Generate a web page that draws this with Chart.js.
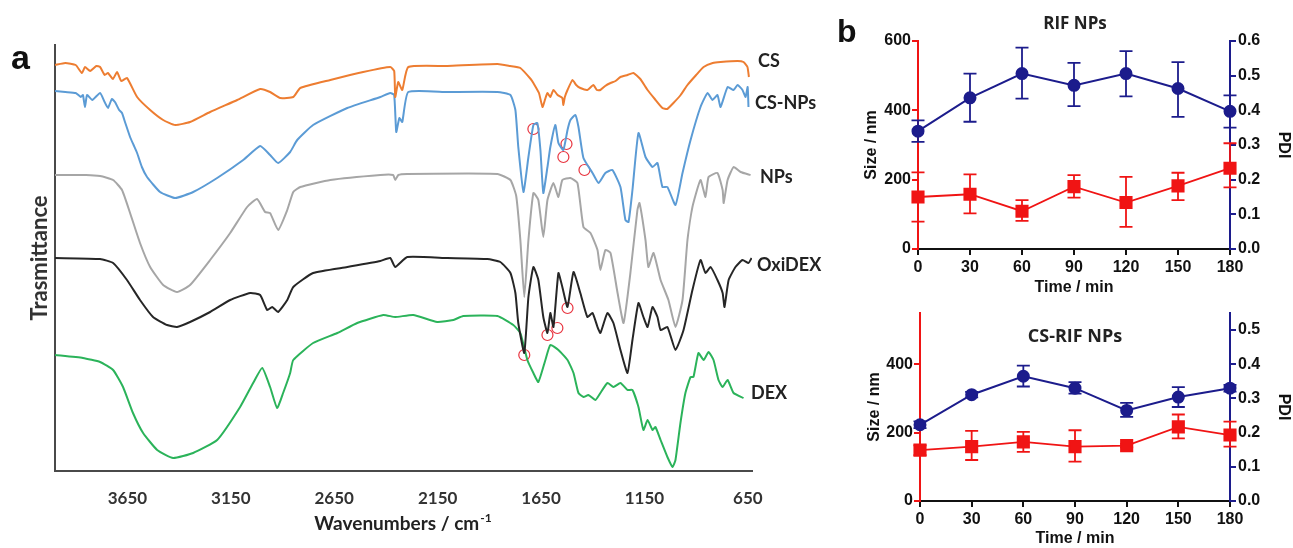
<!DOCTYPE html>
<html>
<head>
<meta charset="utf-8">
<script src="https://cdn.jsdelivr.net/npm/chart.js@4.4.0/dist/chart.umd.min.js"></script>
<style>
  html, body { margin: 0; padding: 0; background: #fff; }
  #wrap { position: relative; width: 1293px; height: 548px; overflow: hidden; background: #fff; }
  canvas { position: absolute; }
</style>
</head>
<body>
<div id="wrap">
  <canvas id="ftirChart" width="835" height="548" style="left:0px;top:0px"></canvas>
  <canvas id="rifChart" width="463" height="300" style="left:830px;top:0px"></canvas>
  <canvas id="csRifChart" width="463" height="248" style="left:830px;top:300px"></canvas>
</div>
<script>
// ---- panel a : FTIR spectra, [wavenumber cm-1, transmittance (a.u., stacked offsets)] ----
const csSpectrum = [[4000,406],[3950,408],[3900,406],[3870,398],[3855,404],[3830,400],[3800,405],[3782,404],[3760,396],[3744,398],[3720,392],[3700,399],[3680,390],[3652,393],[3603,374],[3540,361],[3477,351],[3419,346],[3347,349],[3250,359],[3119,371],[3008,382],[2960,379],[2911,373],[2848,374],[2814,383],[2669,391],[2510,399],[2379,404],[2360,400],[2355,374],[2345,385],[2340,389],[2321,381],[2292,404],[2103,405],[1861,407],[1800,405],[1750,403],[1700,392],[1687,388],[1660,378],[1643,364],[1630,372],[1619,378],[1605,374],[1590,381],[1570,376],[1547,373],[1542,366],[1535,374],[1522,381],[1498,391],[1480,386],[1460,383],[1426,381],[1397,386],[1380,381],[1363,381],[1340,385],[1314,388],[1290,390],[1266,394],[1232,396],[1203,398],[1170,392],[1135,381],[1100,372],[1063,363],[1040,362],[1010,368],[975,376],[942,386],[900,396],[864,404],[820,408],[782,409],[700,410],[671,409],[652,404],[645,394]];
const csNpsSpectrum = [[4000,380],[3950,379],[3900,378],[3875,374],[3865,376],[3855,364],[3845,376],[3820,371],[3782,378],[3760,369],[3744,363],[3725,372],[3710,369],[3690,361],[3676,358],[3660,348],[3637,334],[3620,326],[3603,318],[3580,304],[3555,294],[3492,279],[3419,273],[3332,279],[3216,293],[3090,311],[3008,325],[2960,316],[2921,308],[2863,319],[2829,331],[2752,346],[2587,363],[2427,374],[2379,378],[2360,376],[2350,339],[2335,353],[2321,349],[2292,379],[2103,379],[1861,379],[1798,376],[1774,361],[1760,324],[1735,279],[1711,314],[1687,346],[1668,348],[1653,321],[1639,278],[1619,304],[1605,324],[1581,346],[1566,328],[1542,321],[1522,341],[1508,351],[1484,356],[1469,344],[1445,313],[1401,298],[1372,288],[1339,298],[1305,301],[1266,284],[1242,251],[1227,249],[1208,281],[1179,338],[1145,314],[1111,304],[1087,308],[1063,284],[1039,284],[1000,266],[966,298],[927,331],[879,364],[845,378],[821,371],[797,376],[782,364],[748,384],[719,381],[700,386],[676,381],[661,374],[651,384],[647,364]];
const npsSpectrum = [[4000,296],[3850,296],[3782,295],[3719,291],[3676,281],[3637,258],[3589,228],[3540,204],[3477,186],[3410,179],[3347,186],[3250,211],[3153,238],[3071,264],[3023,272],[2984,259],[2960,258],[2921,241],[2877,261],[2848,279],[2814,284],[2669,291],[2427,296],[2365,296],[2355,291],[2340,296],[2297,297],[1861,297],[1798,291],[1770,275],[1750,231],[1731,174],[1711,231],[1687,278],[1663,271],[1639,234],[1619,271],[1590,288],[1566,274],[1547,291],[1508,293],[1474,288],[1445,244],[1411,238],[1377,221],[1363,201],[1339,221],[1314,218],[1280,178],[1251,148],[1218,198],[1184,261],[1174,268],[1145,231],[1131,204],[1106,218],[1072,191],[1034,171],[1000,144],[966,171],[942,231],[918,264],[879,291],[855,274],[840,294],[797,298],[772,281],[767,268],[748,291],[719,304],[685,299],[637,296]];
const oxidexSpectrum = [[4000,213],[3782,212],[3719,208],[3652,191],[3589,171],[3526,154],[3458,146],[3410,144],[3347,149],[3250,159],[3153,171],[3056,178],[3008,176],[2974,161],[2950,164],[2921,159],[2877,171],[2848,184],[2752,198],[2587,204],[2427,210],[2379,213],[2355,204],[2297,214],[2103,213],[1910,212],[1847,209],[1798,198],[1774,178],[1760,148],[1731,118],[1711,174],[1687,204],[1663,191],[1639,154],[1619,138],[1605,158],[1590,144],[1566,198],[1547,184],[1522,164],[1493,199],[1460,178],[1426,154],[1401,158],[1377,144],[1363,138],[1329,158],[1300,148],[1266,121],[1232,98],[1208,131],[1179,168],[1155,154],[1135,144],[1111,164],[1087,154],[1072,141],[1039,144],[1000,121],[961,141],[918,181],[879,211],[855,198],[830,204],[797,191],[772,178],[763,164],[743,191],[710,204],[676,211],[647,208],[632,213]];
const dexSpectrum = [[4000,116],[3865,113],[3782,109],[3719,101],[3671,84],[3623,58],[3574,38],[3506,21],[3429,13],[3332,18],[3216,31],[3105,64],[3042,88],[2998,103],[2960,84],[2926,63],[2897,78],[2863,98],[2848,111],[2752,128],[2635,138],[2539,148],[2413,156],[2355,154],[2268,156],[2152,149],[2074,151],[2026,155],[1861,155],[1784,146],[1750,138],[1716,111],[1687,98],[1663,89],[1629,111],[1605,126],[1566,121],[1522,111],[1493,98],[1469,78],[1445,74],[1421,76],[1387,71],[1363,78],[1329,88],[1300,84],[1266,88],[1232,81],[1208,81],[1179,64],[1155,41],[1135,51],[1111,41],[1097,44],[1072,31],[1039,14],[1014,4],[1000,11],[976,48],[952,78],[927,94],[913,94],[889,118],[864,111],[840,119],[816,111],[792,91],[772,84],[748,91],[719,78],[671,73]];
const markedBands = [[1687,342],[1542,314],[1527,327],[1440,301],[1731,116],[1619,136],[1571,143],[1522,163]];

const spectrumNames = ['CS', 'CS-NPs', 'NPs', 'OxiDEX', 'DEX'];
const spectrumColors = ['#ed7d31', '#5b9bd5', '#a6a6a6', '#262626', '#2bb35a'];
const spectrumLabelLevel = [410, 368, 294, 206, 78];
const wavenumberTicks = [3650, 3150, 2650, 2150, 1650, 1150, 650];

// ---- panel b : size / PDI vs time ----
const timeMin = [0, 30, 60, 90, 120, 150, 180];
const rifSize = [150, 158, 109, 180, 134, 182, 233];
const rifSizeLow = [79, 103, 81, 148, 64, 141, 178];
const rifSizeHigh = [221, 215, 141, 213, 208, 220, 305];
const rifPdi = [0.340, 0.436, 0.506, 0.472, 0.506, 0.463, 0.397];
const rifPdiLow = [0.309, 0.367, 0.434, 0.412, 0.440, 0.381, 0.350];
const rifPdiHigh = [0.371, 0.506, 0.581, 0.537, 0.571, 0.539, 0.443];
const csRifSize = [149, 159, 173, 159, 162, 217, 193];
const csRifSizeLow = [134, 120, 144, 115, 157, 183, 159];
const csRifSizeHigh = [163, 205, 202, 207, 167, 253, 232];
const csRifPdi = [0.223, 0.311, 0.365, 0.330, 0.265, 0.304, 0.330];
const csRifPdiLow = [0.213, 0.303, 0.335, 0.314, 0.246, 0.275, 0.320];
const csRifPdiHigh = [0.233, 0.319, 0.396, 0.348, 0.287, 0.333, 0.340];

const RED = '#f01414';
const NAVY = '#1c1c8c';
const BOLD_ARIAL = '"Liberation Sans", Arial, sans-serif';

const asXY = pts => pts.map(p => ({ x: p[0], y: p[1] }));

// text drawn straight on the canvas (panel letters, titles)
const panelText = {
  id: 'panelText',
  afterDraw(chart, args, opts) {
    const ctx = chart.ctx;
    (opts.items || []).forEach(t => {
      ctx.save();
      ctx.font = t.font;
      ctx.fillStyle = t.color || '#111';
      ctx.textBaseline = 'alphabetic';
      if (t.sup) {
        // main text + raised exponent, centred as a whole
        const w = ctx.measureText(t.text).width;
        ctx.font = t.supFont;
        const ws = ctx.measureText(t.sup).width;
        const start = t.x - (w + ws + 1) / 2;
        ctx.textAlign = 'left';
        ctx.fillText(t.sup, start + w + 1, t.y - 8);
        ctx.font = t.font;
        ctx.fillText(t.text, start, t.y);
      } else {
        ctx.textAlign = t.align || 'left';
        ctx.fillText(t.text, t.x, t.y);
      }
      ctx.restore();
    });
  }
};

const curveLabels = {
  id: 'curveLabels',
  afterDatasetsDraw(chart) {
    const { ctx, chartArea, scales } = chart;
    const dx = [6, 3, 8, 5, -1];
    ctx.save();
    ctx.font = 'bold 18px Lato';
    ctx.fillStyle = '#222';
    ctx.textBaseline = 'middle';
    spectrumNames.forEach((name, i) => {
      ctx.fillText(name, chartArea.right + dx[i], scales.y.getPixelForValue(spectrumLabelLevel[i]));
    });
    ctx.restore();
  }
};

const errorBars = {
  id: 'errorBars',
  beforeDatasetsDraw(chart) {
    const ctx = chart.ctx;
    chart.data.datasets.forEach(ds => {
      if (!ds.errLow) return;
      const ys = chart.scales[ds.yAxisID];
      const xs = chart.scales.x;
      ctx.save();
      ctx.strokeStyle = ds.borderColor;
      ctx.lineWidth = 1.8;
      ds.data.forEach((p, j) => {
        const x = xs.getPixelForValue(p.x);
        const y1 = ys.getPixelForValue(ds.errLow[j]);
        const y2 = ys.getPixelForValue(ds.errHigh[j]);
        ctx.beginPath();
        ctx.moveTo(x, y1); ctx.lineTo(x, y2);
        ctx.moveTo(x - 6.5, y1); ctx.lineTo(x + 6.5, y1);
        ctx.moveTo(x - 6.5, y2); ctx.lineTo(x + 6.5, y2);
        ctx.stroke();
      });
      ctx.restore();
    });
  }
};

const spectra = [csSpectrum, csNpsSpectrum, npsSpectrum, oxidexSpectrum, dexSpectrum];

new Chart(document.getElementById('ftirChart'), {
  type: 'line',
  data: {
    datasets: spectra.map((s, i) => ({
      label: spectrumNames[i],
      data: asXY(s),
      borderColor: spectrumColors[i],
      borderWidth: 2,
      pointRadius: 0,
      tension: 0.15,
      fill: false
    })).concat([{
      label: 'marked bands',
      data: asXY(markedBands),
      showLine: false,
      pointStyle: 'circle',
      pointRadius: 5.5,
      borderColor: '#e8343f',
      borderWidth: 1.2,
      backgroundColor: 'rgba(0,0,0,0)'
    }])
  },
  options: {
    responsive: false,
    animation: false,
    layout: { padding: { top: 45, right: 83, left: 0, bottom: 0 } },
    plugins: {
      legend: { display: false },
      tooltip: { enabled: false },
      panelText: {
        items: [
          { text: 'a', x: 11, y: 69, font: 'bold 34px ' + BOLD_ARIAL, color: '#111' },
          { text: 'Wavenumbers / cm', sup: '-1', x: 403, y: 530,
            font: 'bold 19px Lato', supFont: 'bold 12px Lato', color: '#222' }
        ]
      }
    },
    scales: {
      x: {
        type: 'linear', reverse: true, min: 630, max: 4000,
        afterBuildTicks: s => { s.ticks = wavenumberTicks.map(v => ({ value: v })); },
        afterFit: s => { s.height = 77; },
        grid: { display: false, drawTicks: false },
        border: { display: true, color: '#4a4a4a', width: 2 },
        ticks: { padding: 17, color: '#333', font: { family: 'Lato', weight: 'bold', size: 17 },
                 maxRotation: 0, autoSkip: false, callback: v => String(v) }
      },
      y: {
        min: 0, max: 426,
        afterFit: s => { s.width = 55; },
        grid: { display: false, drawTicks: false },
        border: { display: true, color: '#4a4a4a', width: 2 },
        ticks: { display: false },
        title: { display: true, text: 'Trasmittance', color: '#333',
                 font: { family: 'Lato', weight: 'bold', size: 22 }, padding: { top: 27, bottom: 0 } }
      }
    }
  },
  plugins: [curveLabels, panelText]
});

function kineticsChart(id, c) {
  const tickFont = { family: BOLD_ARIAL, weight: 'bold', size: 16 };
  const titleFont = { family: BOLD_ARIAL, weight: 'bold', size: 16 };
  return new Chart(document.getElementById(id), {
    type: 'line',
    data: {
      datasets: [
        { label: 'Size', data: timeMin.map((t, j) => ({ x: t, y: c.size[j] })), errLow: c.sizeLow, errHigh: c.sizeHigh,
          yAxisID: 'ySize', borderColor: RED, backgroundColor: RED, borderWidth: 1.8,
          pointStyle: 'rect', pointRadius: 8, clip: false },
        { label: 'PDI', data: timeMin.map((t, j) => ({ x: t, y: c.pdi[j] })), errLow: c.pdiLow, errHigh: c.pdiHigh,
          yAxisID: 'yPdi', borderColor: NAVY, backgroundColor: NAVY, borderWidth: 2,
          pointStyle: 'circle', pointRadius: 5.5, clip: false }
      ]
    },
    options: {
      responsive: false,
      animation: false,
      layout: { padding: { top: c.top, left: 0, right: 0, bottom: 0 } },
      plugins: {
        legend: { display: false },
        tooltip: { enabled: false },
        panelText: { items: c.text }
      },
      scales: {
        x: {
          type: 'linear', min: 0, max: 180,
          afterBuildTicks: s => { s.ticks = timeMin.map(v => ({ value: v })); },
          afterFit: s => { s.height = c.xHeight; },
          grid: { drawOnChartArea: false, color: '#111', lineWidth: 2, tickLength: 6 },
          border: { color: '#111', width: 2 },
          ticks: { padding: 3, color: '#111', font: tickFont, maxRotation: 0 },
          title: { display: true, text: 'Time / min', color: '#111', font: titleFont, padding: { top: 0, bottom: c.xTitlePad } }
        },
        ySize: {
          axis: 'y', position: 'left', min: 0, max: c.sizeMax,
          afterBuildTicks: s => { s.ticks = c.sizeTicks.map(v => ({ value: v })); },
          afterFit: s => { s.width = c.leftWidth; },
          grid: { drawOnChartArea: false, color: RED, lineWidth: 2, tickLength: 6 },
          border: { color: RED, width: 2 },
          ticks: { padding: 1, color: '#111', font: tickFont },
          title: { display: true, text: 'Size / nm', color: '#111', font: titleFont, padding: { top: c.leftTitlePad, bottom: 0 } }
        },
        yPdi: {
          axis: 'y', position: 'right', min: 0, max: c.pdiMax,
          afterBuildTicks: s => { s.ticks = c.pdiTicks.map(v => ({ value: v })); },
          afterFit: s => { s.width = 63; },
          grid: { drawOnChartArea: false, color: NAVY, lineWidth: 2, tickLength: 6 },
          border: { color: NAVY, width: 2 },
          ticks: { padding: 2, color: '#111', font: tickFont, callback: v => v.toFixed(1) },
          title: { display: true, text: 'PDI', color: '#111', font: titleFont, padding: { top: 0, bottom: 0 } }
        }
      }
    },
    plugins: [errorBars, panelText]
  });
}

kineticsChart('rifChart', {
  size: rifSize, sizeLow: rifSizeLow, sizeHigh: rifSizeHigh,
  pdi: rifPdi, pdiLow: rifPdiLow, pdiHigh: rifPdiHigh,
  sizeMax: 600, pdiMax: 0.6,
  sizeTicks: [0, 200, 400, 600], pdiTicks: [0, 0.1, 0.2, 0.3, 0.4, 0.5, 0.6],
  top: 41, xHeight: 51, xTitlePad: 3, leftWidth: 88, leftTitlePad: 32,
  text: [
    { text: 'b', x: 7, y: 42, font: 'bold 32px ' + BOLD_ARIAL, color: '#111' },
    { text: 'RIF NPs', x: 245, y: 29, align: 'center', font: 'bold 17px "Open Sans"', color: '#222' }
  ]
});

kineticsChart('csRifChart', {
  size: csRifSize, sizeLow: csRifSizeLow, sizeHigh: csRifSizeHigh,
  pdi: csRifPdi, pdiLow: csRifPdiLow, pdiHigh: csRifPdiHigh,
  sizeMax: 550, pdiMax: 0.55,
  sizeTicks: [0, 200, 400], pdiTicks: [0, 0.1, 0.2, 0.3, 0.4, 0.5],
  top: 13, xHeight: 47, xTitlePad: 0, leftWidth: 90, leftTitlePad: 35,
  text: [
    { text: 'CS-RIF NPs', x: 245, y: 42, align: 'center', font: 'bold 18px "Open Sans"', color: '#222' }
  ]
});
</script>
</body>
</html>
